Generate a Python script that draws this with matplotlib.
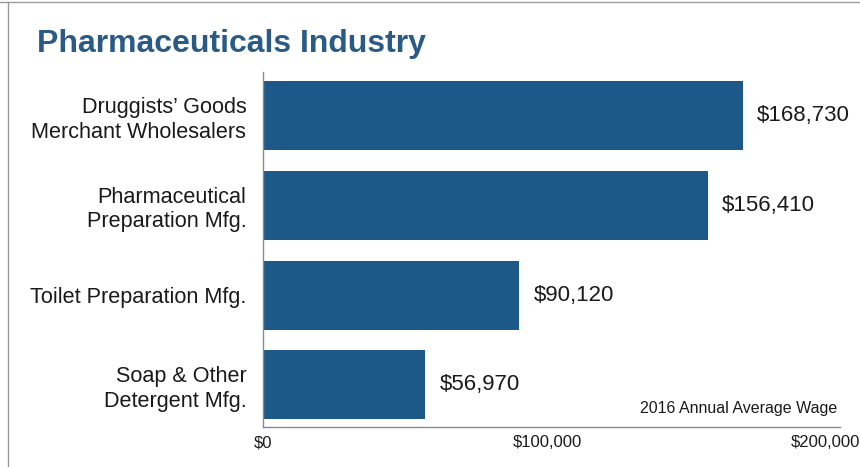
import matplotlib.pyplot as plt
from matplotlib.lines import Line2D
from matplotlib.transforms import ScaledTranslation

categories = ["Druggists\u2019 Goods\nMerchant Wholesalers",
              "Pharmaceutical\nPreparation Mfg.",
              "Toilet Preparation Mfg.",
              "Soap & Other\nDetergent Mfg."]
wages = [168730, 156410, 90120, 56970]
tick_values = [0, 100000, 200000]
tick_labels = ["$0", "$100,000", "$200,000"]

bar_color = "#1c5989"
title_color = "#2a5b87"
text_color = "#1a1a1a"

plt.rcParams['font.family'] = ['Liberation Sans', 'DejaVu Sans']

fig = plt.figure(figsize=(8.6, 4.67), dpi=100)
ax = fig.add_axes([263 / 860, 1 - 427 / 467, 577 / 860, 355 / 467])

ypos = list(range(len(categories)))
ax.barh(ypos, wages, height=0.77, color=bar_color)
ax.set_xlim(0, 202800)
ax.set_ylim(3.47, -0.49)

for y, w in zip(ypos, wages):
    ax.text(w + 5000, y, f"${w:,}", va='center', ha='left', fontsize=16,
            color=text_color)

ax.set_yticks(ypos)
ax.set_yticklabels(categories, fontsize=15.6, color=text_color,
                   linespacing=1.2, ha='right')
ax.tick_params(axis='y', length=0, pad=12)
ax.set_xticks(tick_values)
ax.set_xticklabels(tick_labels, fontsize=12, color=text_color)
ax.tick_params(axis='x', length=0, pad=6)
# nudge the last tick label so it stays inside the figure
last = ax.get_xticklabels()[-1]
last.set_transform(last.get_transform() + ScaledTranslation(-7 / 100, 0, fig.dpi_scale_trans))

for s in ['top', 'right']:
    ax.spines[s].set_visible(False)
for s in ['left', 'bottom']:
    ax.spines[s].set_color('#8a8a8a')
    ax.spines[s].set_linewidth(1)

ax.text(0.995, 0.03, "2016 Annual Average Wage", transform=ax.transAxes,
        ha='right', va='bottom', fontsize=11.5, color=text_color)

fig.text(37 / 860, 1 - 44 / 467, "Pharmaceuticals Industry",
         fontweight='bold', fontsize=23, color=title_color,
         ha='left', va='center')

# outer frame (top and left edges)
fig.add_artist(Line2D([0, 1], [1 - 2 / 467, 1 - 2 / 467],
                      transform=fig.transFigure, color='#9a9a9a', lw=1))
fig.add_artist(Line2D([8 / 860, 8 / 860], [0, 1 - 2 / 467],
                      transform=fig.transFigure, color='#9a9a9a', lw=1))

fig.savefig("out.png", dpi=100)
